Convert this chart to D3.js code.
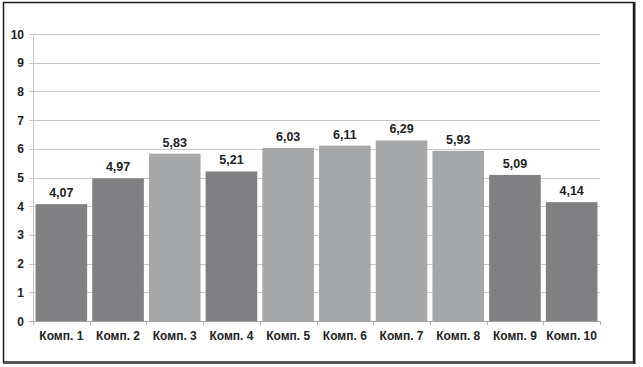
<!DOCTYPE html>
<html><head><meta charset="utf-8">
<script src="https://cdn.jsdelivr.net/npm/d3@7"></script>
<style>html,body{margin:0;padding:0;background:#fff;}svg{display:block;}</style>
</head><body>
<svg id="c" width="643" height="367"></svg>
<script>
const categories = ["Комп. 1","Комп. 2","Комп. 3","Комп. 4","Комп. 5","Комп. 6","Комп. 7","Комп. 8","Комп. 9","Комп. 10"];
const values = [4.07, 4.97, 5.83, 5.21, 6.03, 6.11, 6.29, 5.93, 5.09, 4.14];
const valueLabels = ["4,07","4,97","5,83","5,21","6,03","6,11","6,29","5,93","5,09","4,14"];
const shades = ["dark","dark","light","dark","light","light","light","light","dark","dark"];
const yTicks = [0,1,2,3,4,5,6,7,8,9,10];

const svg = d3.select("#c");
const font = "Arial, 'Liberation Sans', sans-serif";
// frame
svg.append("rect").attr("x",3.5).attr("y",2.5).attr("width",630).attr("height",359.5)
  .attr("fill","#fff").attr("stroke","#1e1e1e").attr("stroke-width",1.5);
svg.append("line").attr("x1",3).attr("x2",635).attr("y1",363).attr("y2",363).attr("stroke","#555").attr("stroke-width",2);
svg.append("line").attr("x1",634.5).attr("x2",634.5).attr("y1",2).attr("y2",364).attr("stroke","#1e1e1e").attr("stroke-width",2);

const m = {left:33, right:600, top:34, bottom:321};
const x = d3.scaleBand().domain(categories).range([m.left, m.right]).paddingInner(0.09).paddingOuter(0.045);
const y = d3.scaleLinear().domain([0,10]).range([m.bottom, m.top]);

// gridlines
svg.append("g").selectAll("line").data(yTicks.filter(d=>d>0)).join("line")
  .attr("x1", m.left-4).attr("x2", m.right)
  .attr("y1", d=>Math.round(y(d))+0.5).attr("y2", d=>Math.round(y(d))+0.5)
  .attr("stroke","#c6c6c6").attr("stroke-width",1);

// y axis line
svg.append("line").attr("x1",m.left+0.5).attr("x2",m.left+0.5).attr("y1",m.top).attr("y2",m.bottom)
  .attr("stroke","#c6c6c6");

// y tick labels
svg.append("g").selectAll("text").data(yTicks).join("text")
  .attr("x", 24).attr("y", d=>y(d)+4.5).attr("text-anchor","end")
  .attr("font-family",font).attr("font-weight","bold").attr("font-size",12).attr("fill","#222")
  .text(d=>d);

// bars
const colors = {dark:"#808083", light:"#a6a7a9"};
svg.append("g").selectAll("rect").data(values).join("rect")
  .attr("x",(d,i)=>x(categories[i])).attr("width",x.bandwidth())
  .attr("y",d=>y(d)).attr("height",d=>y(0)-y(d))
  .attr("fill",(d,i)=>colors[shades[i]]);

// x axis line and ticks
svg.append("line").attr("x1",m.left-4).attr("x2",m.right).attr("y1",m.bottom+0.5).attr("y2",m.bottom+0.5).attr("stroke","#a0a0a0");
const bounds = d3.range(categories.length+1).map(i=>m.left + i*(m.right-m.left)/categories.length);
svg.append("g").selectAll("line").data(bounds).join("line")
  .attr("x1",d=>Math.round(d)+0.5).attr("x2",d=>Math.round(d)+0.5).attr("y1",m.bottom).attr("y2",m.bottom+4)
  .attr("stroke","#b0b0b0");

// value labels
svg.append("g").selectAll("text").data(values).join("text")
  .attr("x",(d,i)=>x(categories[i])+x.bandwidth()/2).attr("y",d=>y(d)-7)
  .attr("text-anchor","middle").attr("font-family",font).attr("font-weight","bold").attr("font-size",12.5).attr("fill","#222")
  .text((d,i)=>valueLabels[i]);

// category labels
svg.append("g").selectAll("text").data(categories).join("text")
  .attr("x",d=>x(d)+x.bandwidth()/2).attr("y",340)
  .attr("text-anchor","middle").attr("font-family",font).attr("font-weight","bold").attr("font-size",12).attr("fill","#222")
  .text(d=>d);
</script>
</body></html>
